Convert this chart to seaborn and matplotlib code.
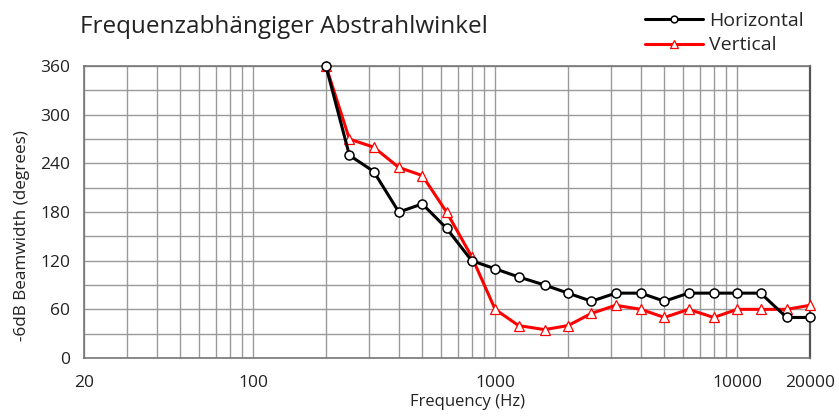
import numpy as np
import pandas as pd
import matplotlib
matplotlib.use("Agg")
import matplotlib.pyplot as plt
import seaborn as sns
from matplotlib.ticker import FixedLocator, NullFormatter

freqs = [200, 250, 315, 400, 500, 630, 800, 1000, 1250, 1600, 2000,
         2500, 3150, 4000, 5000, 6300, 8000, 10000, 12500, 16000, 20000]
horizontal = [360, 250, 230, 180, 190, 160, 120, 110, 100, 90, 80,
              70, 80, 80, 70, 80, 80, 80, 80, 50, 50]
vertical = [360, 270, 260, 235, 225, 180, 125, 60, 40, 35, 40,
            55, 65, 60, 50, 60, 50, 60, 60, 60, 65]

x_ticks = [20, 100, 1000, 10000, 20000]
y_ticks = [0, 60, 120, 180, 240, 300, 360]

sns.set_theme(style="white")
plt.rcParams['font.family'] = ['Open Sans', 'DejaVu Sans']

fig = plt.figure(figsize=(8.39, 4.17), dpi=100)
ax = fig.add_axes([0.1, 0.1415, 0.8655, 0.7])

df = pd.DataFrame({"freq": freqs, "Horizontal": horizontal, "Vertical": vertical})

sns.lineplot(data=df, x="freq", y="Horizontal", ax=ax, color="black", lw=2.2,
             marker="o", markersize=6.5, markerfacecolor="white",
             markeredgecolor="black", markeredgewidth=1.1, label="Horizontal",
             zorder=4, clip_on=False)
sns.lineplot(data=df, x="freq", y="Vertical", ax=ax, color="#ff0000", lw=2.2,
             marker="^", markersize=7.5, markerfacecolor="white",
             markeredgecolor="#ff0000", markeredgewidth=0.9, label="Vertical",
             zorder=3, clip_on=False)

ax.set_xscale("log")
ax.set_xlim(20, 20000)
ax.set_ylim(0, 360)

ax.xaxis.set_major_locator(FixedLocator(x_ticks))
ax.set_xticklabels([str(t) for t in x_ticks])
minor = [m * d for d in (10, 100, 1000, 10000) for m in range(2, 10) if 20 < m * d < 20000]
ax.xaxis.set_minor_locator(FixedLocator(minor))
ax.xaxis.set_minor_formatter(NullFormatter())
ax.set_yticks(y_ticks)
ax.yaxis.set_minor_locator(FixedLocator(list(range(30, 360, 60))))

ax.grid(True, which="both", color="#9a9a9a", lw=1.0)
ax.tick_params(axis="both", which="both", length=0, labelsize=12.5, colors="#222222")
ax.tick_params(axis="x", pad=12)
ax.tick_params(axis="y", pad=10)

for side in ["left", "bottom", "top"]:
    ax.spines[side].set_color("#777777")
    ax.spines[side].set_linewidth(1.2)
ax.spines["right"].set_color("#555555")
ax.spines["right"].set_linewidth(1.6)

ax.set_xlabel("Frequency (Hz)", fontsize=12, color="#222222")
ax.set_ylabel("-6dB Beamwidth (degrees)", fontsize=12.3, color="#222222")
ax.xaxis.set_label_coords(0.528, -0.125)
ax.yaxis.set_label_coords(-0.074, 0.42)

fig.text(0.095, 0.935, "Frequenzabhängiger Abstrahlwinkel", fontsize=17.5,
         color="#222222", va="center", ha="left")

handles, labels = ax.get_legend_handles_labels()
ax.get_legend().remove()
fig.legend(handles, labels, loc="upper left", bbox_to_anchor=(0.755, 1.0),
           frameon=False, fontsize=14, handlelength=3.0, handletextpad=0.3,
           labelspacing=0.35, borderaxespad=0.2, markerscale=0.75)

fig.savefig("out.png", dpi=100)
